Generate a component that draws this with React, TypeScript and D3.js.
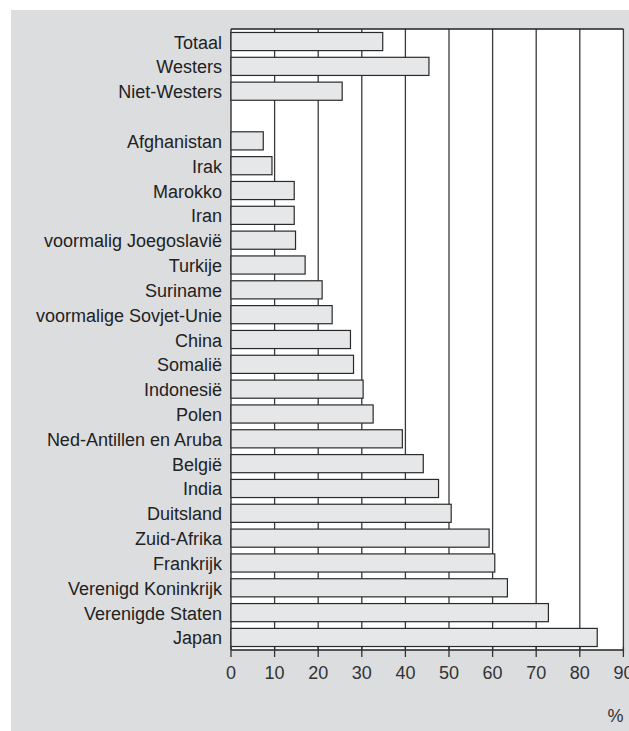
import * as d3 from "d3";

const groupLabels = ["Totaal", "Westers", "Niet-Westers"];
const groupValues = [34.8, 45.4, 25.5];

const countryLabels = [
  "Afghanistan",
  "Irak",
  "Marokko",
  "Iran",
  "voormalig Joegoslavië",
  "Turkije",
  "Suriname",
  "voormalige Sovjet-Unie",
  "China",
  "Somalië",
  "Indonesië",
  "Polen",
  "Ned-Antillen en Aruba",
  "België",
  "India",
  "Duitsland",
  "Zuid-Afrika",
  "Frankrijk",
  "Verenigd Koninkrijk",
  "Verenigde Staten",
  "Japan",
];
const countryValues = [
  7.4, 9.4, 14.5, 14.5, 14.8, 17.0, 20.9, 23.2, 27.4, 28.1, 30.3, 32.6, 39.3, 44.1, 47.6, 50.5, 59.2,
  60.5, 63.4, 72.8, 84.0,
];

const xTicks = [0, 10, 20, 30, 40, 50, 60, 70, 80, 90];
const unitLabel = "%";

const SPACER = "__spacer__";

export default function App() {
  const width = 629;
  const height = 731;
  const plot = { left: 231, right: 623.4, top: 29, bottom: 650 };
  const font = "'Liberation Sans', Arial, Helvetica, sans-serif";

  const rows = [
    ...groupLabels.map((l, i) => ({ key: l, label: l, value: groupValues[i] })),
    { key: SPACER, label: "", value: NaN },
    ...countryLabels.map((l, i) => ({ key: l, label: l, value: countryValues[i] })),
  ];

  const x = d3.scaleLinear().domain([0, 90]).range([plot.left, plot.right]);
  const y = d3
    .scaleBand()
    .domain(rows.map((r) => r.key))
    .range([plot.top, plot.bottom])
    .paddingInner(0.27)
    .paddingOuter(0.14);

  const bars = rows.filter((r) => r.key !== SPACER);

  return (
    <svg
      width={width}
      height={height}
      style={{ position: "absolute", left: 0, top: 0, fontFamily: font }}
    >
      <rect x={11} y={10} width={width - 11} height={height - 10} fill="#dcdddf" />
      <rect
        x={plot.left}
        y={plot.top}
        width={plot.right - plot.left}
        height={plot.bottom - plot.top}
        fill="#ffffff"
      />

      {/* gridlines */}
      {xTicks.slice(1).map((t) => (
        <line
          key={t}
          x1={x(t)}
          x2={x(t)}
          y1={plot.top}
          y2={plot.bottom}
          stroke="#3a3a3a"
          strokeWidth={1.3}
        />
      ))}
      <line x1={plot.left} x2={plot.right} y1={plot.top} y2={plot.top} stroke="#222" strokeWidth={1.5} />
      <line x1={plot.left} x2={plot.left} y1={plot.top} y2={plot.bottom} stroke="#222" strokeWidth={1.3} />

      {/* bars */}
      {bars.map((r) => (
        <rect
          key={r.key}
          x={x(0)}
          y={y(r.key)}
          width={x(r.value) - x(0)}
          height={y.bandwidth()}
          fill="#e6e7e8"
          stroke="#2a2a2a"
          strokeWidth={1.2}
        />
      ))}

      {/* category labels */}
      {bars.map((r) => (
        <text
          key={r.key}
          x={222}
          y={(y(r.key) ?? 0) + y.bandwidth() / 2 + 7}
          textAnchor="end"
          fontSize={18}
          fill="#222"
        >
          {r.label}
        </text>
      ))}

      {/* x axis */}
      <line x1={plot.left} x2={plot.right} y1={plot.bottom} y2={plot.bottom} stroke="#222" strokeWidth={1.3} />
      {xTicks.map((t) => (
        <g key={t}>
          <line x1={x(t)} x2={x(t)} y1={plot.bottom - 3} y2={plot.bottom + 7} stroke="#333" strokeWidth={1.3} />
          <text x={x(t)} y={679} textAnchor="middle" fontSize={18} fill="#333">
            {t}
          </text>
        </g>
      ))}
      <text x={plot.right} y={722} textAnchor="end" fontSize={18} fill="#333">
        {unitLabel}
      </text>
    </svg>
  );
}
